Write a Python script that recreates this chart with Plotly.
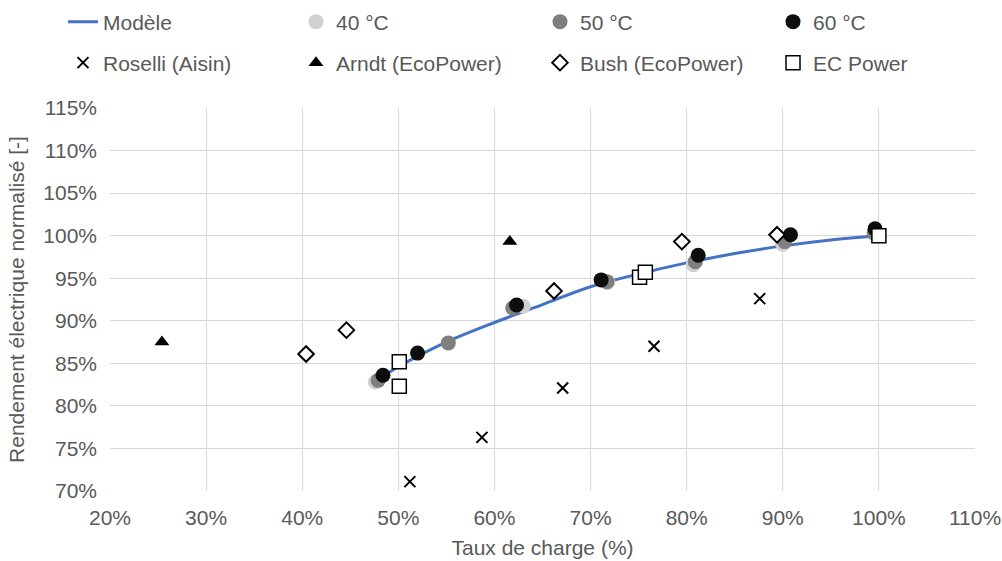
import plotly.graph_objects as go

# Model curve
model_x = [0.478, 0.50, 0.55, 0.60, 0.65, 0.70, 0.75, 0.80, 0.85, 0.90, 0.95, 1.00]
model_y = [0.830, 0.846, 0.875, 0.898, 0.919, 0.940, 0.955, 0.968, 0.979, 0.988, 0.995, 1.000]

t40_x = [0.476, 0.630, 0.718, 0.807, 0.900]
t40_y = [0.828, 0.917, 0.945, 0.966, 0.990]
t50_x = [0.479, 0.552, 0.619, 0.717, 0.809, 0.902, 0.995]
t50_y = [0.830, 0.874, 0.915, 0.946, 0.9695, 0.993, 1.003]
t60_x = [0.484, 0.520, 0.623, 0.711, 0.812, 0.908, 0.996]
t60_y = [0.836, 0.862, 0.9186, 0.948, 0.977, 1.001, 1.008]

roselli_x = [0.512, 0.587, 0.671, 0.766, 0.876]
roselli_y = [0.711, 0.763, 0.821, 0.870, 0.926]
arndt_x = [0.254, 0.616]
arndt_y = [0.875, 0.993]
bush_x = [0.404, 0.446, 0.662, 0.795, 0.894]
bush_y = [0.861, 0.889, 0.935, 0.993, 1.001]
ecp_x = [0.501, 0.501, 0.751, 0.757, 1.000]
ecp_y = [0.852, 0.823, 0.951, 0.957, 1.000]

FONT = "Liberation Sans, Arial, sans-serif"
TXT = "#595959"
FS = 21
W, H = 1002, 561

fig = go.Figure()
fig.add_trace(go.Scatter(x=model_x, y=model_y, mode="lines", name="Modèle",
                         line=dict(color="#4472C4", width=3, shape="spline"),
                         legend="legend", showlegend=True))
fig.add_trace(go.Scatter(x=t40_x, y=t40_y, mode="markers", name="40 °C",
                         marker=dict(color="#D0D0D0", size=15), legend="legend2"))
fig.add_trace(go.Scatter(x=t50_x, y=t50_y, mode="markers", name="50 °C",
                         marker=dict(color="#7F7F7F", size=15), legend="legend3"))
fig.add_trace(go.Scatter(x=t60_x, y=t60_y, mode="markers", name="60 °C",
                         marker=dict(color="#0D0D0D", size=15), legend="legend4"))
fig.add_trace(go.Scatter(x=roselli_x, y=roselli_y, mode="markers", name="Roselli (Aisin)",
                         marker=dict(symbol="x-thin", size=11, line=dict(color="#000000", width=2)),
                         legend="legend5"))
fig.add_trace(go.Scatter(x=arndt_x, y=arndt_y, mode="markers", name="Arndt (EcoPower)",
                         marker=dict(symbol="triangle-up", size=13, color="#000000"),
                         legend="legend6"))
fig.add_trace(go.Scatter(x=bush_x, y=bush_y, mode="markers", name="Bush (EcoPower)",
                         marker=dict(symbol="diamond", size=12, color="#FFFFFF",
                                     line=dict(color="#000000", width=2)),
                         legend="legend7"))
fig.add_trace(go.Scatter(x=ecp_x, y=ecp_y, mode="markers", name="EC Power",
                         marker=dict(symbol="square", size=14, color="#FFFFFF",
                                     line=dict(color="#000000", width=1.5)),
                         legend="legend8"))


def leg(px, py):
    return dict(orientation="h", xref="container", yref="container",
                x=px / W, xanchor="left", y=1 - py / H, yanchor="middle",
                font=dict(family=FONT, size=FS, color=TXT),
                bgcolor="rgba(0,0,0,0)", borderwidth=0)


col_x = [63, 296, 540, 773]
row_y = [22, 63]

fig.update_layout(
    width=W, height=H, showlegend=True,
    paper_bgcolor="white", plot_bgcolor="white",
    margin=dict(l=110, r=27, t=108, b=70, autoexpand=False),
    font=dict(family=FONT, size=FS, color=TXT),
    legend=leg(col_x[0], row_y[0]),
    legend2=leg(col_x[1], row_y[0]),
    legend3=leg(col_x[2], row_y[0]),
    legend4=leg(col_x[3], row_y[0]),
    legend5=leg(col_x[0], row_y[1]),
    legend6=leg(col_x[1], row_y[1]),
    legend7=leg(col_x[2], row_y[1]),
    legend8=leg(col_x[3], row_y[1]),
    xaxis=dict(range=[0.2, 1.1], dtick=0.1, tick0=0.2, tickformat=".0%",
               showgrid=True, gridcolor="#D9D9D9", gridwidth=1,
               zeroline=False, showline=False, ticks="", automargin=False,
               ticklabelstandoff=12,
               title=dict(text="Taux de charge (%)", font=dict(family=FONT, size=FS, color=TXT), standoff=12),
               tickfont=dict(family=FONT, size=FS, color=TXT)),
    yaxis=dict(range=[0.70, 1.15], dtick=0.05, tick0=0.70, tickformat=".0%",
               showgrid=True, gridcolor="#D9D9D9", gridwidth=1,
               zeroline=False, showline=False, ticks="", automargin=False,
               ticklabelstandoff=12,
               title=dict(text="Rendement électrique normalisé [-]", font=dict(family=FONT, size=FS, color=TXT), standoff=12),
               tickfont=dict(family=FONT, size=FS, color=TXT)),
)

fig.write_html("out.html", config={"displayModeBar": False},
               post_script="document.body.style.margin='0';")
